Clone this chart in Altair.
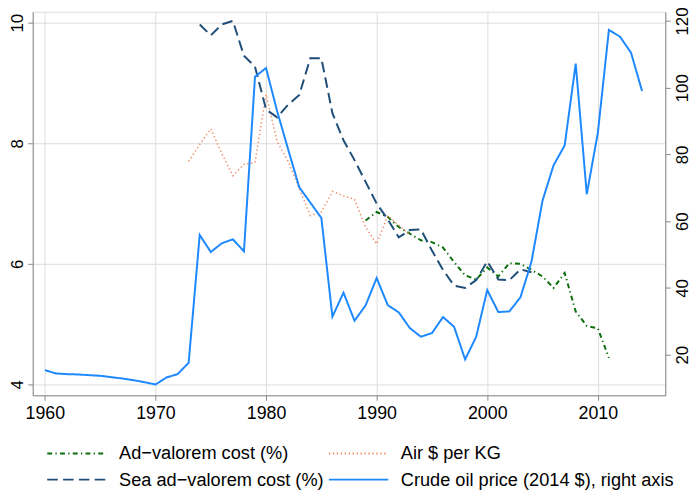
import altair as alt
import pandas as pd

# ---- data ----
years_oil = list(range(1960, 2015))
oil_price = [15.4, 14.4, 14.2, 14.1, 13.9, 13.7, 13.3, 12.9, 12.4, 11.8,
             11.1, 13.2, 14.2, 17.6, 55.9, 50.8, 53.4, 54.6, 51.0, 103.3,
             105.9, 93.0, 81.5, 70.2, 65.6, 61.0, 31.4, 38.6, 30.2, 34.8,
             43.0, 34.9, 32.7, 28.0, 25.4, 26.5, 31.3, 28.4, 18.6, 25.4,
             39.4, 32.8, 33.0, 37.2, 47.9, 66.2, 76.8, 82.7, 107.2, 68.1,
             86.5, 117.3, 115.3, 110.5, 99.0]

years_sea = list(range(1974, 2005))
sea_cost = [9.97, 9.79, 9.97, 10.03, 9.45, 9.27, 8.56, 8.43, 8.64, 8.80,
            9.41, 9.41, 8.50, 8.05, 7.72, 7.36, 7.00, 6.74, 6.44, 6.56,
            6.57, 6.22, 5.90, 5.64, 5.60, 5.73, 6.04, 5.74, 5.73, 5.91,
            5.86]

years_adv = list(range(1989, 2012))
adv_cost = [6.72, 6.86, 6.78, 6.61, 6.50, 6.39, 6.36, 6.27, 6.03, 5.81,
            5.74, 5.94, 5.79, 6.01, 6.00, 5.90, 5.79, 5.60, 5.85, 5.21,
            4.97, 4.93, 4.44]

years_air = list(range(1973, 1994))
air_cost = [7.70, 7.98, 8.24, 7.83, 7.46, 7.65, 7.68, 8.81, 8.03, 7.70,
            7.25, 6.80, 6.86, 7.20, 7.13, 7.07, 6.61, 6.33, 6.80, 6.64,
            6.48]

names = ["Ad\u2212valorem cost (%)", "Air $ per KG",
         "Sea ad\u2212valorem cost (%)", "Crude oil price (2014 $), right axis"]
colors = ["#0B6E0B", "#F4845F", "#1F4E79", "#1E88FF"]
dashes = [[5, 3.3, 1.3, 3.3], [1.3, 2.7], [10.7, 5.3], [1, 0]]
widths = [2, 1.5, 2, 2]

x_ticks = [1960, 1970, 1980, 1990, 2000, 2010]
left_ticks = [4, 6, 8, 10]
right_ticks = [20, 40, 60, 80, 100, 120]

frames = [
    pd.DataFrame({"year": years_adv, "value": adv_cost, "series": names[0]}),
    pd.DataFrame({"year": years_air, "value": air_cost, "series": names[1]}),
    pd.DataFrame({"year": years_sea, "value": sea_cost, "series": names[2]}),
    pd.DataFrame({"year": years_oil, "value": oil_price, "series": names[3]}),
]
df = pd.concat(frames, ignore_index=True)

FONT = "Liberation Sans"

leg = alt.Legend(
    orient="none", legendX=35.5, legendY=437.5, columns=2,
    direction="horizontal",
    columnPadding=1, rowPadding=7.6,
    symbolType="M-4,0H4", symbolSize=225, symbolStrokeWidth=2,
    labelFontSize=18.4, labelFont=FONT, labelColor="black",
    labelOffset=33.5, labelLimit=500, padding=0,
)

color = alt.Color("series:N", title=None,
                  scale=alt.Scale(domain=names, range=colors), legend=leg)
dash = alt.StrokeDash("series:N", title=None,
                      scale=alt.Scale(domain=names, range=dashes), legend=leg)

x_enc = alt.X("year:Q", title=None,
              scale=alt.Scale(domain=[1958.9, 2016.1], nice=False, zero=False),
              axis=alt.Axis(values=x_ticks, format="d", labelFontSize=18,
                            labelPadding=4.4, labelFlush=False))

y_left = alt.Y("value:Q", title=None,
               scale=alt.Scale(domain=[3.82, 10.18], nice=False, zero=False),
               axis=alt.Axis(orient="left", values=left_ticks, format="d",
                             labelAngle=270, labelAlign="center",
                             labelBaseline="alphabetic", labelPadding=5,
                             labelFontSize=17))

y_right = alt.Y("value:Q", title=None,
                scale=alt.Scale(domain=[7.86, 122.75], nice=False, zero=False),
                axis=alt.Axis(orient="right", values=right_ticks, format="d",
                              labelAngle=270, labelAlign="center",
                              labelBaseline="top", labelPadding=4.4,
                              labelFontSize=17))

base = alt.Chart(df)

left_layers = []
for i in range(3):
    left_layers.append(
        base.transform_filter(alt.datum.series == names[i])
        .mark_line(strokeWidth=widths[i], strokeCap="butt")
        .encode(x=x_enc, y=y_left, color=color, strokeDash=dash)
    )
left = alt.layer(*left_layers)

oil = (base.transform_filter(alt.datum.series == names[3])
       .mark_line(strokeWidth=widths[3], strokeCap="butt")
       .encode(x=x_enc, y=y_right, color=color, strokeDash=dash))

chart = (
    alt.layer(left, oil)
    .resolve_scale(y="independent")
    .properties(width=640, height=388,
                padding={"left": 25, "top": 1, "right": 26, "bottom": 96},
                autosize=alt.AutoSizeParams(type="none"))
    .configure_view(stroke="black", strokeWidth=1)
    .configure_axis(domain=False, grid=False, tickColor="black", tickSize=7,
                    tickWidth=1, labelColor="black", labelFont=FONT)
    .configure(background="white")
)

chart.save("out.html", embed_options={"renderer": "svg", "actions": False})
